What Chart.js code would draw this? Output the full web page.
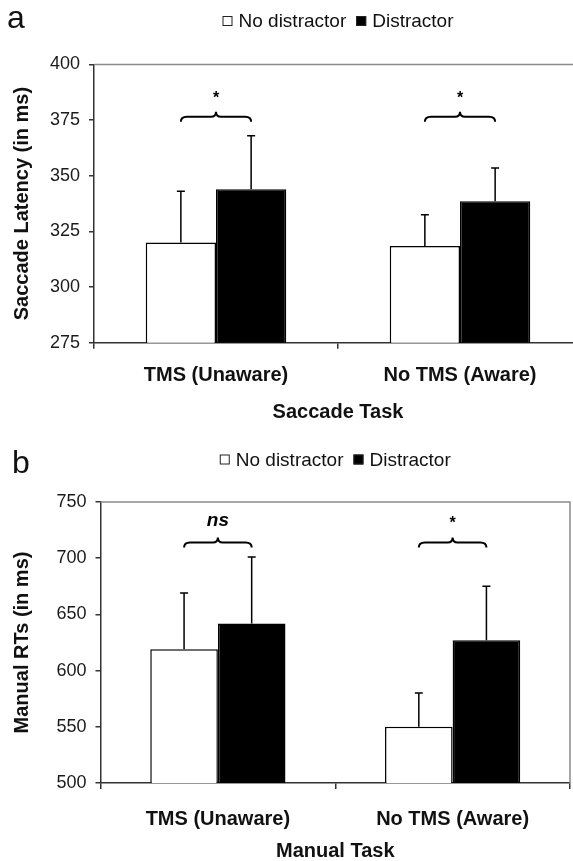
<!DOCTYPE html>
<html>
<head>
<meta charset="utf-8">
<script src="https://cdn.jsdelivr.net/npm/chart.js@4.4.0/dist/chart.umd.min.js"></script>
<style>
html, body { margin: 0; padding: 0; background: #fff; overflow: hidden; }
#wrapA { position: absolute; left: 0; top: 0; width: 573px; height: 430px; overflow: hidden; }
#wrapB { position: absolute; left: 0; top: 430px; width: 573px; height: 431px; overflow: hidden; }
</style>
</head>
<body>
<div id="wrapA"><canvas id="saccade" width="600" height="430"></canvas></div>
<div id="wrapB"><canvas id="manual" width="573" height="431"></canvas></div>
<script>
const conditions = ['TMS (Unaware)', 'No TMS (Aware)'];
const seriesNames = ['No distractor', 'Distractor'];

// panel a - saccade latency
const saccadeNoDistractor = [320, 318.5];
const saccadeDistractor = [344, 338.5];
const saccadeNoDistractorErr = [23, 14];
const saccadeDistractorErr = [24, 15];
const saccadeTicks = [275, 300, 325, 350, 375, 400];
const saccadeSig = ['*', '*'];
const saccadeBrace = 376.5;

// panel b - manual RTs
const manualNoDistractor = [619, 550];
const manualDistractor = [642, 627];
const manualNoDistractorErr = [50, 30];
const manualDistractorErr = [59, 48];
const manualTicks = [500, 550, 600, 650, 700, 750];
const manualSig = ['ns', '*'];
const manualBrace = 714;

const FONT = '"Liberation Sans", Arial, sans-serif';

// error bars (upper half only), braces, significance marks
const barExtras = {
    id: 'barExtras',
    afterDatasetsDraw(chart, args, opts) {
        const ctx = chart.ctx;
        const y = chart.scales.y;
        ctx.save();
        ctx.strokeStyle = '#000';
        ctx.lineWidth = 1.5;
        chart.data.datasets.forEach((ds, i) => {
            chart.getDatasetMeta(i).data.forEach((bar, j) => {
                const top = y.getPixelForValue(ds.data[j] + ds.errors[j]);
                ctx.beginPath();
                ctx.moveTo(bar.x, bar.y);
                ctx.lineTo(bar.x, top);
                ctx.moveTo(bar.x - 4, top);
                ctx.lineTo(bar.x + 4, top);
                ctx.stroke();
            });
        });
        // braces
        const by = y.getPixelForValue(opts.brace);
        const m0 = chart.getDatasetMeta(0).data;
        const m1 = chart.getDatasetMeta(1).data;
        ctx.lineWidth = 2;
        opts.labels.forEach((lab, j) => {
            const x1 = m0[j].x, x2 = m1[j].x, mid = (x1 + x2) / 2;
            ctx.beginPath();
            ctx.moveTo(x1, by + 5);
            ctx.quadraticCurveTo(x1, by, x1 + 6, by);
            ctx.lineTo(mid - 5, by);
            ctx.quadraticCurveTo(mid, by, mid, by - 5);
            ctx.quadraticCurveTo(mid, by, mid + 5, by);
            ctx.lineTo(x2 - 6, by);
            ctx.quadraticCurveTo(x2, by, x2, by + 5);
            ctx.stroke();
            ctx.fillStyle = '#000';
            ctx.textAlign = 'center';
            ctx.textBaseline = 'alphabetic';
            if (lab === '*') {
                ctx.font = 'bold 16px ' + FONT;
                ctx.fillText(lab, mid, by - 14);
            } else {
                ctx.font = 'italic bold 19px ' + FONT;
                ctx.fillText(lab, mid, by - 16);
            }
        });
        ctx.restore();
    }
};

// plot box, panel letter and legend
const panelDecor = {
    id: 'panelDecor',
    afterDraw(chart, args, opts) {
        const ctx = chart.ctx, area = chart.chartArea;
        ctx.save();
        ctx.strokeStyle = '#8a8a8a';
        ctx.lineWidth = 1.5;
        ctx.beginPath();
        ctx.moveTo(area.left, area.top);
        ctx.lineTo(area.right, area.top);
        ctx.lineTo(area.right, area.bottom);
        ctx.stroke();

        ctx.fillStyle = '#111';
        ctx.textAlign = 'left';
        ctx.textBaseline = 'alphabetic';
        ctx.font = '32px ' + FONT;
        ctx.fillText(opts.letter, opts.letterX, opts.letterY);

        ctx.font = '19px ' + FONT;
        const box = 10;
        const items = chart.data.datasets.map(ds => ({
            text: ds.label, fill: ds.backgroundColor, w: ctx.measureText(ds.label).width
        }));
        const total = items.reduce((s, it) => s + box + 6 + it.w, 0) + 10 * (items.length - 1);
        let x = (area.left + area.right) / 2 - total / 2;
        const ly = opts.legendY;
        items.forEach(it => {
            ctx.fillStyle = it.fill;
            ctx.fillRect(x, ly - box / 2, box, box);
            ctx.strokeStyle = '#222';
            ctx.lineWidth = 1;
            ctx.strokeRect(x + 0.5, ly - box / 2 + 0.5, box - 1, box - 1);
            x += box + 6;
            ctx.fillStyle = '#111';
            ctx.textBaseline = 'middle';
            ctx.fillText(it.text, x, ly + 1);
            x += it.w + 10;
        });
        ctx.restore();
    }
};

function makeChart(id, p) {
    return new Chart(document.getElementById(id), {
        type: 'bar',
        data: {
            labels: conditions,
            datasets: [{
                label: seriesNames[0],
                data: p.white,
                errors: p.whiteErr,
                backgroundColor: '#fff',
                borderColor: '#000',
                borderWidth: 1.5,
                borderSkipped: false
            }, {
                label: seriesNames[1],
                data: p.black,
                errors: p.blackErr,
                backgroundColor: '#000',
                borderColor: '#000',
                borderWidth: 1.5,
                borderSkipped: false
            }]
        },
        options: {
            responsive: false,
            animation: false,
            datasets: { bar: { barPercentage: 1, categoryPercentage: 0.576 } },
            layout: { padding: { left: 0, top: p.top, right: p.right, bottom: p.bottom } },
            plugins: {
                legend: { display: false },
                tooltip: { enabled: false },
                barExtras: { brace: p.brace, labels: p.sig },
                panelDecor: { letter: p.letter, letterX: p.letterX, letterY: p.letterY, legendY: p.legendY }
            },
            scales: {
                x: {
                    afterFit: s => { s.height = p.xHeight; },
                    grid: { display: true, drawOnChartArea: false, offset: true, tickLength: 6, color: '#333', lineWidth: 1.5 },
                    border: { color: '#333', width: 1.5 },
                    ticks: { color: '#111', padding: p.xPad, font: { family: FONT, size: 20, weight: 'bold' } },
                    title: {
                        display: true, text: p.xTitle, color: '#111', padding: 0,
                        font: { family: FONT, size: 20, weight: 'bold', lineHeight: 1 }
                    }
                },
                y: {
                    min: p.ticks[0],
                    max: p.ticks[p.ticks.length - 1],
                    afterFit: s => { s.width = p.yWidth; },
                    afterBuildTicks: s => { s.ticks = p.ticks.map(v => ({ value: v })); },
                    grid: { display: true, drawOnChartArea: false, tickLength: 5, color: '#333', lineWidth: 1.5 },
                    border: { color: '#333', width: 1.5 },
                    ticks: { color: '#1a1a1a', padding: 9, font: { family: FONT, size: 18 } },
                    title: {
                        display: true, text: p.yTitle, color: '#111', padding: { top: 10, bottom: 0 },
                        font: { family: FONT, size: 20, weight: 'bold', lineHeight: 1.2 }
                    }
                }
            }
        },
        plugins: [barExtras, panelDecor]
    });
}

const saccade = makeChart('saccade', {
    white: saccadeNoDistractor, whiteErr: saccadeNoDistractorErr,
    black: saccadeDistractor, blackErr: saccadeDistractorErr,
    ticks: saccadeTicks, sig: saccadeSig, brace: saccadeBrace,
    xTitle: 'Saccade Task', yTitle: 'Saccade Latency (in ms)',
    top: 64.5, right: 18, bottom: 8, xHeight: 79.3, yWidth: 94, xPad: 15,
    letter: 'a', letterX: 7, letterY: 28, legendY: 21
});

const manual = makeChart('manual', {
    white: manualNoDistractor, whiteErr: manualNoDistractorErr,
    black: manualDistractor, blackErr: manualDistractorErr,
    ticks: manualTicks, sig: manualSig, brace: manualBrace,
    xTitle: 'Manual Task', yTitle: 'Manual RTs (in ms)',
    top: 72, right: 3, bottom: 0, xHeight: 78, yWidth: 100.5, xPad: 18,
    letter: 'b', letterX: 12, letterY: 43, legendY: 29.5
});
</script>
</body>
</html>
